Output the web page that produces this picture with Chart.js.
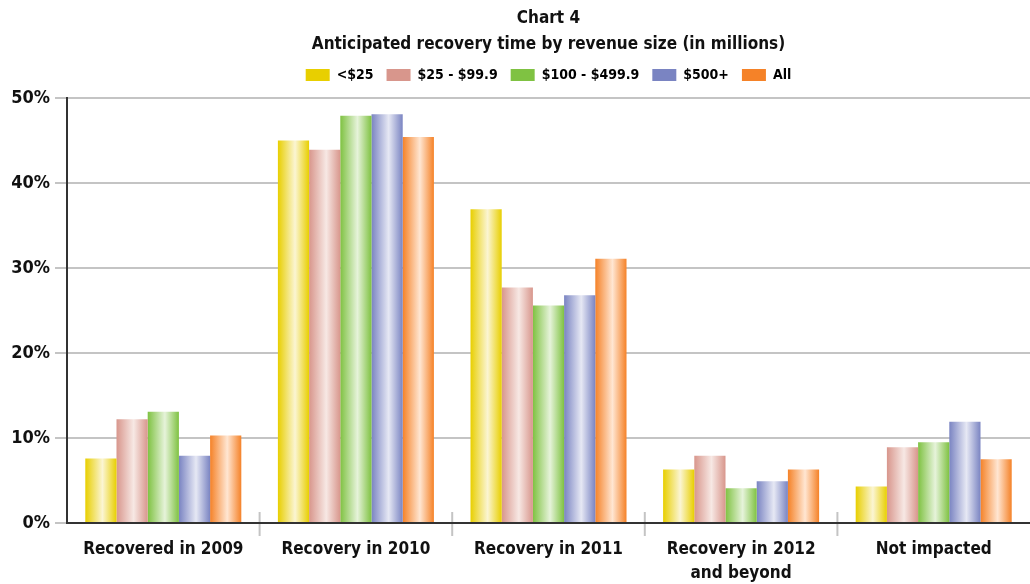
<!DOCTYPE html>
<html>
<head>
<meta charset="utf-8">
<title>Chart 4</title>
<script src="https://cdn.jsdelivr.net/npm/chart.js@4.4.1/dist/chart.umd.min.js"></script>
<style>
  html, body { margin: 0; padding: 0; background: #fff; }
  canvas { display: block; }
</style>
</head>
<body>
<canvas id="chart4" width="1030" height="584"></canvas>
<script>
// Recovery outlook by revenue band, percent of respondents
const categories = ['Recovered in 2009', 'Recovery in 2010', 'Recovery in 2011', ['Recovery in 2012', 'and beyond'], 'Not impacted'];
const seriesNames = ['<$25', '$25 - $99.9', '$100 - $499.9', '$500+', 'All'];
const under25      = [7.6, 45.0, 36.9, 6.3, 4.3];
const from25to99   = [12.2, 43.9, 27.7, 7.9, 8.9];
const from100to499 = [13.1, 47.9, 25.6, 4.1, 9.5];
const over500      = [7.9, 48.1, 26.8, 4.9, 11.9];
const allSizes     = [10.3, 45.4, 31.1, 6.3, 7.5];
const yTicks = [0, 10, 20, 30, 40, 50];

const baseColors  = ['#e8cf00', '#d8968c', '#7fc242', '#7a84c2', '#f58228'];
const lightColors = ['#fbf5d3', '#f7e8e4', '#e6f3da', '#e6e8f4', '#ffe6d2'];

const FONT = '"Liberation Sans Narrow", "DejaVu Sans Condensed", sans-serif';
const CAT_PCT = 0.81;
const LEGEND_LIFT = 6;

// shiny bar: base colour at the edges, pale streak a bit right of centre
function barFill(ctx) {
  const base = baseColors[ctx.datasetIndex];
  if (ctx.type !== 'data') return base;
  const chart = ctx.chart;
  const xs = chart.scales.x;
  if (!xs || !chart.chartArea) return base;
  const center = xs.getPixelForValue(ctx.dataIndex);
  const cat = xs.width / categories.length;
  const n = chart.data.datasets.length;
  const bw = cat * CAT_PCT / n;
  const left = center - cat * CAT_PCT / 2 + ctx.datasetIndex * bw;
  if (!isFinite(left) || !isFinite(bw) || bw <= 0) return base;
  const g = chart.ctx.createLinearGradient(left, 0, left + bw, 0);
  g.addColorStop(0, base);
  g.addColorStop(0.55, lightColors[ctx.datasetIndex]);
  g.addColorStop(1, base);
  return g;
}

// short separators between category groups, crossing the x axis
const groupTicks = {
  id: 'groupTicks',
  beforeDraw(chart) {
    const xs = chart.scales.x;
    const bottom = chart.chartArea.bottom;
    const c = chart.ctx;
    c.save();
    c.strokeStyle = '#c4c4c4';
    c.lineWidth = 2;
    for (let i = 1; i < categories.length; i++) {
      const x = (xs.getPixelForValue(i - 1) + xs.getPixelForValue(i)) / 2;
      c.beginPath();
      c.moveTo(x, bottom - 11);
      c.lineTo(x, bottom + 13);
      c.stroke();
    }
    c.restore();
  }
};

// centre title and legend over the plot area, and pull the legend up a bit
const centerOverPlot = {
  id: 'centerOverPlot',
  afterLayout(chart) {
    const a = chart.chartArea;
    [chart.titleBlock, chart.legend].forEach((b) => {
      if (!b) return;
      b.left = a.left;
      b.right = a.right;
      b.width = a.right - a.left;
    });
    if (chart.legend) {
      chart.legend.top -= LEGEND_LIFT;
      chart.legend.bottom -= LEGEND_LIFT;
    }
  }
};

const data = {
  labels: categories,
  datasets: [under25, from25to99, from100to499, over500, allSizes].map((values, i) => ({
    label: seriesNames[i],
    data: values,
    backgroundColor: barFill,
    borderWidth: 0,
    barPercentage: 1,
    categoryPercentage: CAT_PCT
  }))
};

new Chart(document.getElementById('chart4'), {
  type: 'bar',
  data,
  plugins: [groupTicks, centerOverPlot],
  options: {
    responsive: false,
    animation: false,
    layout: { padding: { left: 0, right: 0, top: 0, bottom: 0 } },
    plugins: {
      title: {
        display: true,
        text: ['Chart 4', 'Anticipated recovery time by revenue size (in millions)'],
        color: '#111',
        font: { family: FONT, size: 17, weight: 'bold', lineHeight: 1.5 },
        padding: { top: 6, bottom: 4 }
      },
      legend: {
        display: true,
        labels: {
          color: '#111',
          font: { family: FONT, size: 14, weight: 'bold' },
          boxWidth: 24,
          boxHeight: 12,
          padding: 13,
          generateLabels: (chart) => chart.data.datasets.map((ds, i) => ({
            text: ds.label,
            fillStyle: baseColors[i],
            strokeStyle: baseColors[i],
            lineWidth: 0,
            hidden: false,
            datasetIndex: i
          }))
        }
      },
      tooltip: { enabled: false }
    },
    scales: {
      x: {
        grid: { display: false },
        border: { display: true, color: '#333', width: 2 },
        ticks: {
          color: '#111',
          font: { family: FONT, size: 17, weight: 'bold', lineHeight: 1.4 },
          padding: 7,
          maxRotation: 0,
          autoSkip: false
        },
        afterFit(scale) { scale.height = 61; }
      },
      y: {
        min: 0,
        max: 50,
        afterBuildTicks(scale) { scale.ticks = yTicks.map((v) => ({ value: v })); },
        grid: { color: '#c4c4c4', lineWidth: 2, tickLength: 12, drawTicks: true },
        border: { display: true, color: '#333', width: 2 },
        ticks: {
          color: '#111',
          font: { family: FONT, size: 18, weight: 'bold' },
          padding: 5,
          callback: (v) => v + '%'
        },
        afterFit(scale) { scale.width = 67; }
      }
    }
  }
});
</script>
</body>
</html>
